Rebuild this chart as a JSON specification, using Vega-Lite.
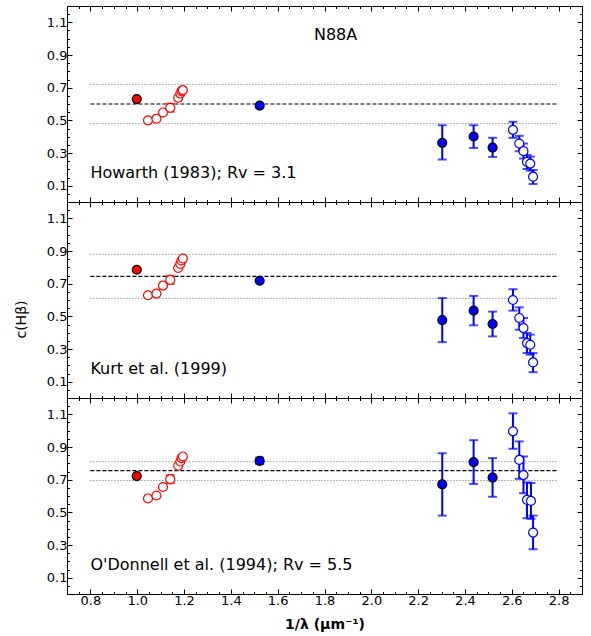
{
"$schema": "https://vega.github.io/schema/vega-lite/v6.json",
"padding": {"left": 13, "top": 5, "right": 9, "bottom": 5},
"background": "white",
"bounds": "flush",
"spacing": 0,
"config": {
 "view": {"stroke": "black", "strokeWidth": 1},
 "axis": {"domainColor": "black", "tickColor": "black", "labelColor": "black", "titleColor": "black", "grid": false, "labelFont": "DejaVu Sans", "titleFont": "DejaVu Sans", "labelFontSize": 13, "titleFontSize": 13, "titleFontWeight": "normal"},
 "text": {"font": "DejaVu Sans"}
},
"datasets": {
 "pts": [
  {"p":1,"k":"rf","x":0.998,"y":0.63},
  {"p":1,"k":"ro","x":1.046,"y":0.50},
  {"p":1,"k":"ro","x":1.082,"y":0.51},
  {"p":1,"k":"ro","x":1.110,"y":0.548},
  {"p":1,"k":"ro","x":1.141,"y":0.577,"lo":0.552,"hi":0.602},
  {"p":1,"k":"ro","x":1.175,"y":0.638},
  {"p":1,"k":"ro","x":1.184,"y":0.664},
  {"p":1,"k":"ro","x":1.189,"y":0.679},
  {"p":1,"k":"ro","x":1.195,"y":0.685},
  {"p":1,"k":"bf","x":1.523,"y":0.59},
  {"p":1,"k":"bf","x":2.303,"y":0.362,"lo":0.26,"hi":0.47},
  {"p":1,"k":"bf","x":2.437,"y":0.401,"lo":0.331,"hi":0.47},
  {"p":1,"k":"bf","x":2.518,"y":0.333,"lo":0.276,"hi":0.393},
  {"p":1,"k":"bo","x":2.605,"y":0.442,"lo":0.393,"hi":0.491},
  {"p":1,"k":"bo","x":2.632,"y":0.358,"lo":0.311,"hi":0.405},
  {"p":1,"k":"bo","x":2.650,"y":0.311,"lo":0.266,"hi":0.358},
  {"p":1,"k":"bo","x":2.665,"y":0.245,"lo":0.202,"hi":0.288},
  {"p":1,"k":"bo","x":2.679,"y":0.235,"lo":0.192,"hi":0.278},
  {"p":1,"k":"bo","x":2.691,"y":0.155,"lo":0.11,"hi":0.196},
  {"p":2,"k":"rf","x":0.998,"y":0.785},
  {"p":2,"k":"ro","x":1.046,"y":0.629},
  {"p":2,"k":"ro","x":1.082,"y":0.639},
  {"p":2,"k":"ro","x":1.110,"y":0.688},
  {"p":2,"k":"ro","x":1.141,"y":0.723,"lo":0.698,"hi":0.748},
  {"p":2,"k":"ro","x":1.175,"y":0.796},
  {"p":2,"k":"ro","x":1.184,"y":0.821},
  {"p":2,"k":"ro","x":1.189,"y":0.842},
  {"p":2,"k":"ro","x":1.195,"y":0.854},
  {"p":2,"k":"bf","x":1.523,"y":0.718},
  {"p":2,"k":"bf","x":2.303,"y":0.477,"lo":0.342,"hi":0.612},
  {"p":2,"k":"bf","x":2.437,"y":0.535,"lo":0.445,"hi":0.625},
  {"p":2,"k":"bf","x":2.518,"y":0.453,"lo":0.377,"hi":0.529},
  {"p":2,"k":"bo","x":2.605,"y":0.60,"lo":0.535,"hi":0.666},
  {"p":2,"k":"bo","x":2.632,"y":0.49,"lo":0.418,"hi":0.555},
  {"p":2,"k":"bo","x":2.650,"y":0.428,"lo":0.367,"hi":0.49},
  {"p":2,"k":"bo","x":2.665,"y":0.336,"lo":0.275,"hi":0.398},
  {"p":2,"k":"bo","x":2.679,"y":0.326,"lo":0.265,"hi":0.388},
  {"p":2,"k":"bo","x":2.691,"y":0.218,"lo":0.158,"hi":0.275},
  {"p":3,"k":"rf","x":0.998,"y":0.722},
  {"p":3,"k":"ro","x":1.046,"y":0.585},
  {"p":3,"k":"ro","x":1.082,"y":0.603},
  {"p":3,"k":"ro","x":1.110,"y":0.655},
  {"p":3,"k":"ro","x":1.141,"y":0.703,"lo":0.678,"hi":0.728},
  {"p":3,"k":"ro","x":1.175,"y":0.785},
  {"p":3,"k":"ro","x":1.184,"y":0.811},
  {"p":3,"k":"ro","x":1.189,"y":0.832},
  {"p":3,"k":"ro","x":1.195,"y":0.842},
  {"p":3,"k":"bf","x":1.523,"y":0.815,"lo":0.795,"hi":0.835},
  {"p":3,"k":"bf","x":2.303,"y":0.671,"lo":0.48,"hi":0.862},
  {"p":3,"k":"bf","x":2.437,"y":0.807,"lo":0.674,"hi":0.942},
  {"p":3,"k":"bf","x":2.518,"y":0.713,"lo":0.595,"hi":0.832},
  {"p":3,"k":"bo","x":2.605,"y":0.996,"lo":0.889,"hi":1.106},
  {"p":3,"k":"bo","x":2.632,"y":0.821,"lo":0.705,"hi":0.934},
  {"p":3,"k":"bo","x":2.650,"y":0.728,"lo":0.617,"hi":0.842},
  {"p":3,"k":"bo","x":2.665,"y":0.576,"lo":0.464,"hi":0.683},
  {"p":3,"k":"bo","x":2.682,"y":0.57,"lo":0.46,"hi":0.68},
  {"p":3,"k":"bo","x":2.691,"y":0.376,"lo":0.274,"hi":0.48}
 ],
 "lns": [
  {"p":1,"s":"m","y":0.60},{"p":1,"s":"l","y":0.72},{"p":1,"s":"l","y":0.48},
  {"p":2,"s":"m","y":0.745},{"p":2,"s":"l","y":0.88},{"p":2,"s":"l","y":0.61},
  {"p":3,"s":"m","y":0.755},{"p":3,"s":"l","y":0.81},{"p":3,"s":"l","y":0.695}
 ],
 "lab": [
  {"p":1,"x":1.755,"y":1.024,"t":"N88A"},
  {"p":1,"x":0.8,"y":0.18,"t":"Howarth (1983); Rv = 3.1"},
  {"p":2,"x":0.8,"y":0.18,"t":"Kurt et al. (1999)"},
  {"p":3,"x":0.8,"y":0.18,"t":"O'Donnell et al. (1994); Rv = 5.5"}
 ]
},
"vconcat": [
 {
  "width": 515, "height": 196,
  "layer": [
   {"data": {"name": "lns"}, "transform": [{"filter": "datum.p == 1 && datum.s == 'm'"}],
    "mark": {"type": "rule", "color": "black", "strokeDash": [4, 2], "strokeWidth": 1.2},
    "encoding": {
     "x": {"datum": 0.8, "type": "quantitative", "scale": {"domain": [0.7, 2.9], "nice": false, "zero": false}, "axis": {"orient": "bottom", "title": null, "labels": false, "values": [0.8,1.0,1.2,1.4,1.6,1.8,2.0,2.2,2.4,2.6,2.8], "tickSize": -5}},
     "x2": {"datum": 2.8},
     "y": {"field": "y", "type": "quantitative", "scale": {"domain": [0, 1.2], "nice": false, "zero": false}, "axis": {"orient": "left", "title": null, "values": [0.1,0.3,0.5,0.7,0.9,1.1], "format": ".1f", "tickSize": -5, "labelPadding": 5}}
    }},
   {"data": {"name": "lns"}, "transform": [{"filter": "datum.p == 1 && datum.s == 'l'"}],
    "mark": {"type": "rule", "color": "#666666", "strokeDash": [1, 2], "strokeWidth": 1},
    "encoding": {
     "x": {"datum": 0.8, "type": "quantitative", "axis": {"orient": "top", "title": null, "labels": false, "values": [0.8,1.0,1.2,1.4,1.6,1.8,2.0,2.2,2.4,2.6,2.8], "tickSize": -5}},
     "x2": {"datum": 2.8},
     "y": {"field": "y", "type": "quantitative", "axis": {"orient": "right", "title": null, "labels": false, "values": [0.1,0.3,0.5,0.7,0.9,1.1], "tickSize": -5}}
    }},
   {"data": {"name": "pts"}, "transform": [{"filter": "datum.p == 1 && isValid(datum.lo)"}],
    "mark": {"type": "rule", "strokeWidth": 2},
    "encoding": {
     "x": {"field": "x", "type": "quantitative", "axis": {"orient": "bottom", "title": null, "labels": false, "domain": false, "values": [0.7,0.75,0.8,0.85,0.9,0.95,1.0,1.05,1.1,1.15,1.2,1.25,1.3,1.35,1.4,1.45,1.5,1.55,1.6,1.65,1.7,1.75,1.8,1.85,1.9,1.95,2.0,2.05,2.1,2.15,2.2,2.25,2.3,2.35,2.4,2.45,2.5,2.55,2.6,2.65,2.7,2.75,2.8,2.85,2.9], "tickSize": -2.5}},
     "y": {"field": "lo", "type": "quantitative", "axis": {"orient": "left", "title": null, "labels": false, "domain": false, "values": [0,0.05,0.1,0.15,0.2,0.25,0.3,0.35,0.4,0.45,0.5,0.55,0.6,0.65,0.7,0.75,0.8,0.85,0.9,0.95,1.0,1.05,1.1,1.15,1.2], "tickSize": -2.5}},
     "y2": {"field": "hi"},
     "color": {"field": "k", "type": "nominal", "scale": {"domain": ["rf","ro","bf","bo"], "range": ["#ff0000","#ff0000","#0000ff","#0000ff"]}, "legend": null}
    }},
   {"data": {"name": "pts"}, "transform": [{"filter": "datum.p == 1 && isValid(datum.lo)"}],
    "mark": {"type": "tick", "orient": "horizontal", "size": 9, "thickness": 2},
    "encoding": {
     "x": {"field": "x", "type": "quantitative", "axis": {"orient": "top", "title": null, "labels": false, "domain": false, "values": [0.7,0.75,0.8,0.85,0.9,0.95,1.0,1.05,1.1,1.15,1.2,1.25,1.3,1.35,1.4,1.45,1.5,1.55,1.6,1.65,1.7,1.75,1.8,1.85,1.9,1.95,2.0,2.05,2.1,2.15,2.2,2.25,2.3,2.35,2.4,2.45,2.5,2.55,2.6,2.65,2.7,2.75,2.8,2.85,2.9], "tickSize": -2.5}},
     "y": {"field": "lo", "type": "quantitative", "axis": {"orient": "right", "title": null, "labels": false, "domain": false, "values": [0,0.05,0.1,0.15,0.2,0.25,0.3,0.35,0.4,0.45,0.5,0.55,0.6,0.65,0.7,0.75,0.8,0.85,0.9,0.95,1.0,1.05,1.1,1.15,1.2], "tickSize": -2.5}},
     "color": {"field": "k", "type": "nominal", "legend": null}
    }},
   {"data": {"name": "pts"}, "transform": [{"filter": "datum.p == 1 && isValid(datum.hi)"}],
    "mark": {"type": "tick", "orient": "horizontal", "size": 9, "thickness": 2},
    "encoding": {
     "x": {"field": "x", "type": "quantitative", "axis": null},
     "y": {"field": "hi", "type": "quantitative", "axis": null},
     "color": {"field": "k", "type": "nominal", "legend": null}
    }},
   {"data": {"name": "pts"}, "transform": [{"filter": "datum.p == 1"}],
    "mark": {"type": "point", "shape": "circle", "filled": true, "size": 80, "opacity": 1},
    "encoding": {
     "x": {"field": "x", "type": "quantitative", "axis": null},
     "y": {"field": "y", "type": "quantitative", "axis": null},
     "fill": {"field": "k", "type": "nominal", "scale": {"domain": ["rf","ro","bf","bo"], "range": ["#ff0000","#ffffff","#0000ff","#ffffff"]}, "legend": null},
     "stroke": {"field": "k", "type": "nominal", "scale": {"domain": ["rf","ro","bf","bo"], "range": ["#000000","#ff0000","#000000","#0000ff"]}, "legend": null},
     "strokeWidth": {"value": 1.2}
    }},
   {"data": {"name": "lab"}, "transform": [{"filter": "datum.p == 1"}],
    "mark": {"type": "text", "fontSize": 16, "baseline": "middle", "align": "left", "color": "black"},
    "encoding": {
     "x": {"field": "x", "type": "quantitative", "axis": null},
     "y": {"field": "y", "type": "quantitative", "axis": null},
     "text": {"field": "t"}
    }}
  ],
  "resolve": {"axis": {"x": "independent", "y": "independent"}}
 },
 {
  "width": 515, "height": 196,
  "layer": [
   {"data": {"name": "lns"}, "transform": [{"filter": "datum.p == 2 && datum.s == 'm'"}],
    "mark": {"type": "rule", "color": "black", "strokeDash": [4, 2], "strokeWidth": 1.2},
    "encoding": {
     "x": {"datum": 0.8, "type": "quantitative", "scale": {"domain": [0.7, 2.9], "nice": false, "zero": false}, "axis": {"orient": "bottom", "title": null, "labels": false, "values": [0.8,1.0,1.2,1.4,1.6,1.8,2.0,2.2,2.4,2.6,2.8], "tickSize": -5}},
     "x2": {"datum": 2.8},
     "y": {"field": "y", "type": "quantitative", "scale": {"domain": [0, 1.2], "nice": false, "zero": false}, "axis": {"orient": "left", "title": "c(Hβ)", "titleY": 117, "titlePadding": 18, "titleFontSize": 14, "values": [0.1,0.3,0.5,0.7,0.9,1.1], "format": ".1f", "tickSize": -5, "labelPadding": 5}}
    }},
   {"data": {"name": "lns"}, "transform": [{"filter": "datum.p == 2 && datum.s == 'l'"}],
    "mark": {"type": "rule", "color": "#666666", "strokeDash": [1, 2], "strokeWidth": 1},
    "encoding": {
     "x": {"datum": 0.8, "type": "quantitative", "axis": {"orient": "top", "title": null, "labels": false, "values": [0.8,1.0,1.2,1.4,1.6,1.8,2.0,2.2,2.4,2.6,2.8], "tickSize": -5}},
     "x2": {"datum": 2.8},
     "y": {"field": "y", "type": "quantitative", "axis": {"orient": "right", "title": null, "labels": false, "values": [0.1,0.3,0.5,0.7,0.9,1.1], "tickSize": -5}}
    }},
   {"data": {"name": "pts"}, "transform": [{"filter": "datum.p == 2 && isValid(datum.lo)"}],
    "mark": {"type": "rule", "strokeWidth": 2},
    "encoding": {
     "x": {"field": "x", "type": "quantitative", "axis": {"orient": "bottom", "title": null, "labels": false, "domain": false, "values": [0.7,0.75,0.8,0.85,0.9,0.95,1.0,1.05,1.1,1.15,1.2,1.25,1.3,1.35,1.4,1.45,1.5,1.55,1.6,1.65,1.7,1.75,1.8,1.85,1.9,1.95,2.0,2.05,2.1,2.15,2.2,2.25,2.3,2.35,2.4,2.45,2.5,2.55,2.6,2.65,2.7,2.75,2.8,2.85,2.9], "tickSize": -2.5}},
     "y": {"field": "lo", "type": "quantitative", "axis": {"orient": "left", "title": null, "labels": false, "domain": false, "values": [0,0.05,0.1,0.15,0.2,0.25,0.3,0.35,0.4,0.45,0.5,0.55,0.6,0.65,0.7,0.75,0.8,0.85,0.9,0.95,1.0,1.05,1.1,1.15,1.2], "tickSize": -2.5}},
     "y2": {"field": "hi"},
     "color": {"field": "k", "type": "nominal", "scale": {"domain": ["rf","ro","bf","bo"], "range": ["#ff0000","#ff0000","#0000ff","#0000ff"]}, "legend": null}
    }},
   {"data": {"name": "pts"}, "transform": [{"filter": "datum.p == 2 && isValid(datum.lo)"}],
    "mark": {"type": "tick", "orient": "horizontal", "size": 9, "thickness": 2},
    "encoding": {
     "x": {"field": "x", "type": "quantitative", "axis": {"orient": "top", "title": null, "labels": false, "domain": false, "values": [0.7,0.75,0.8,0.85,0.9,0.95,1.0,1.05,1.1,1.15,1.2,1.25,1.3,1.35,1.4,1.45,1.5,1.55,1.6,1.65,1.7,1.75,1.8,1.85,1.9,1.95,2.0,2.05,2.1,2.15,2.2,2.25,2.3,2.35,2.4,2.45,2.5,2.55,2.6,2.65,2.7,2.75,2.8,2.85,2.9], "tickSize": -2.5}},
     "y": {"field": "lo", "type": "quantitative", "axis": {"orient": "right", "title": null, "labels": false, "domain": false, "values": [0,0.05,0.1,0.15,0.2,0.25,0.3,0.35,0.4,0.45,0.5,0.55,0.6,0.65,0.7,0.75,0.8,0.85,0.9,0.95,1.0,1.05,1.1,1.15,1.2], "tickSize": -2.5}},
     "color": {"field": "k", "type": "nominal", "legend": null}
    }},
   {"data": {"name": "pts"}, "transform": [{"filter": "datum.p == 2 && isValid(datum.hi)"}],
    "mark": {"type": "tick", "orient": "horizontal", "size": 9, "thickness": 2},
    "encoding": {
     "x": {"field": "x", "type": "quantitative", "axis": null},
     "y": {"field": "hi", "type": "quantitative", "axis": null},
     "color": {"field": "k", "type": "nominal", "legend": null}
    }},
   {"data": {"name": "pts"}, "transform": [{"filter": "datum.p == 2"}],
    "mark": {"type": "point", "shape": "circle", "filled": true, "size": 80, "opacity": 1},
    "encoding": {
     "x": {"field": "x", "type": "quantitative", "axis": null},
     "y": {"field": "y", "type": "quantitative", "axis": null},
     "fill": {"field": "k", "type": "nominal", "scale": {"domain": ["rf","ro","bf","bo"], "range": ["#ff0000","#ffffff","#0000ff","#ffffff"]}, "legend": null},
     "stroke": {"field": "k", "type": "nominal", "scale": {"domain": ["rf","ro","bf","bo"], "range": ["#000000","#ff0000","#000000","#0000ff"]}, "legend": null},
     "strokeWidth": {"value": 1.2}
    }},
   {"data": {"name": "lab"}, "transform": [{"filter": "datum.p == 2"}],
    "mark": {"type": "text", "fontSize": 16, "baseline": "middle", "align": "left", "color": "black"},
    "encoding": {
     "x": {"field": "x", "type": "quantitative", "axis": null},
     "y": {"field": "y", "type": "quantitative", "axis": null},
     "text": {"field": "t"}
    }}
  ],
  "resolve": {"axis": {"x": "independent", "y": "independent"}}
 },
 {
  "width": 515, "height": 196,
  "layer": [
   {"data": {"name": "lns"}, "transform": [{"filter": "datum.p == 3 && datum.s == 'm'"}],
    "mark": {"type": "rule", "color": "black", "strokeDash": [4, 2], "strokeWidth": 1.2},
    "encoding": {
     "x": {"datum": 0.8, "type": "quantitative", "scale": {"domain": [0.7, 2.9], "nice": false, "zero": false}, "axis": {"orient": "bottom", "title": "1/λ (μm⁻¹)", "titlePadding": 10, "titleFontSize": 14, "titleFontWeight": "bold", "labels": true, "format": ".1f", "labelPadding": 5, "values": [0.8,1.0,1.2,1.4,1.6,1.8,2.0,2.2,2.4,2.6,2.8], "tickSize": -5}},
     "x2": {"datum": 2.8},
     "y": {"field": "y", "type": "quantitative", "scale": {"domain": [0, 1.2], "nice": false, "zero": false}, "axis": {"orient": "left", "title": null, "values": [0.1,0.3,0.5,0.7,0.9,1.1], "format": ".1f", "tickSize": -5, "labelPadding": 5}}
    }},
   {"data": {"name": "lns"}, "transform": [{"filter": "datum.p == 3 && datum.s == 'l'"}],
    "mark": {"type": "rule", "color": "#666666", "strokeDash": [1, 2], "strokeWidth": 1},
    "encoding": {
     "x": {"datum": 0.8, "type": "quantitative", "axis": {"orient": "top", "title": null, "labels": false, "values": [0.8,1.0,1.2,1.4,1.6,1.8,2.0,2.2,2.4,2.6,2.8], "tickSize": -5}},
     "x2": {"datum": 2.8},
     "y": {"field": "y", "type": "quantitative", "axis": {"orient": "right", "title": null, "labels": false, "values": [0.1,0.3,0.5,0.7,0.9,1.1], "tickSize": -5}}
    }},
   {"data": {"name": "pts"}, "transform": [{"filter": "datum.p == 3 && isValid(datum.lo)"}],
    "mark": {"type": "rule", "strokeWidth": 2},
    "encoding": {
     "x": {"field": "x", "type": "quantitative", "axis": {"orient": "bottom", "title": null, "labels": false, "domain": false, "values": [0.7,0.75,0.8,0.85,0.9,0.95,1.0,1.05,1.1,1.15,1.2,1.25,1.3,1.35,1.4,1.45,1.5,1.55,1.6,1.65,1.7,1.75,1.8,1.85,1.9,1.95,2.0,2.05,2.1,2.15,2.2,2.25,2.3,2.35,2.4,2.45,2.5,2.55,2.6,2.65,2.7,2.75,2.8,2.85,2.9], "tickSize": -2.5}},
     "y": {"field": "lo", "type": "quantitative", "axis": {"orient": "left", "title": null, "labels": false, "domain": false, "values": [0,0.05,0.1,0.15,0.2,0.25,0.3,0.35,0.4,0.45,0.5,0.55,0.6,0.65,0.7,0.75,0.8,0.85,0.9,0.95,1.0,1.05,1.1,1.15,1.2], "tickSize": -2.5}},
     "y2": {"field": "hi"},
     "color": {"field": "k", "type": "nominal", "scale": {"domain": ["rf","ro","bf","bo"], "range": ["#ff0000","#ff0000","#0000ff","#0000ff"]}, "legend": null}
    }},
   {"data": {"name": "pts"}, "transform": [{"filter": "datum.p == 3 && isValid(datum.lo)"}],
    "mark": {"type": "tick", "orient": "horizontal", "size": 9, "thickness": 2},
    "encoding": {
     "x": {"field": "x", "type": "quantitative", "axis": {"orient": "top", "title": null, "labels": false, "domain": false, "values": [0.7,0.75,0.8,0.85,0.9,0.95,1.0,1.05,1.1,1.15,1.2,1.25,1.3,1.35,1.4,1.45,1.5,1.55,1.6,1.65,1.7,1.75,1.8,1.85,1.9,1.95,2.0,2.05,2.1,2.15,2.2,2.25,2.3,2.35,2.4,2.45,2.5,2.55,2.6,2.65,2.7,2.75,2.8,2.85,2.9], "tickSize": -2.5}},
     "y": {"field": "lo", "type": "quantitative", "axis": {"orient": "right", "title": null, "labels": false, "domain": false, "values": [0,0.05,0.1,0.15,0.2,0.25,0.3,0.35,0.4,0.45,0.5,0.55,0.6,0.65,0.7,0.75,0.8,0.85,0.9,0.95,1.0,1.05,1.1,1.15,1.2], "tickSize": -2.5}},
     "color": {"field": "k", "type": "nominal", "legend": null}
    }},
   {"data": {"name": "pts"}, "transform": [{"filter": "datum.p == 3 && isValid(datum.hi)"}],
    "mark": {"type": "tick", "orient": "horizontal", "size": 9, "thickness": 2},
    "encoding": {
     "x": {"field": "x", "type": "quantitative", "axis": null},
     "y": {"field": "hi", "type": "quantitative", "axis": null},
     "color": {"field": "k", "type": "nominal", "legend": null}
    }},
   {"data": {"name": "pts"}, "transform": [{"filter": "datum.p == 3"}],
    "mark": {"type": "point", "shape": "circle", "filled": true, "size": 80, "opacity": 1},
    "encoding": {
     "x": {"field": "x", "type": "quantitative", "axis": null},
     "y": {"field": "y", "type": "quantitative", "axis": null},
     "fill": {"field": "k", "type": "nominal", "scale": {"domain": ["rf","ro","bf","bo"], "range": ["#ff0000","#ffffff","#0000ff","#ffffff"]}, "legend": null},
     "stroke": {"field": "k", "type": "nominal", "scale": {"domain": ["rf","ro","bf","bo"], "range": ["#000000","#ff0000","#000000","#0000ff"]}, "legend": null},
     "strokeWidth": {"value": 1.2}
    }},
   {"data": {"name": "lab"}, "transform": [{"filter": "datum.p == 3"}],
    "mark": {"type": "text", "fontSize": 16, "baseline": "middle", "align": "left", "color": "black"},
    "encoding": {
     "x": {"field": "x", "type": "quantitative", "axis": null},
     "y": {"field": "y", "type": "quantitative", "axis": null},
     "text": {"field": "t"}
    }}
  ],
  "resolve": {"axis": {"x": "independent", "y": "independent"}}
 }
]
}
